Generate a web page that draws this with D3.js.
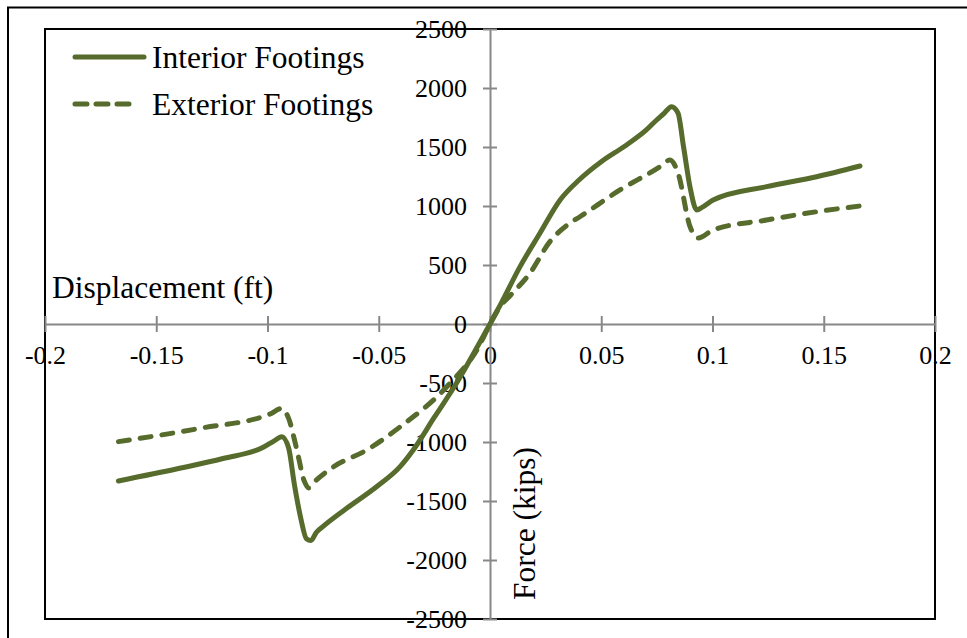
<!DOCTYPE html>
<html>
<head>
<meta charset="utf-8">
<script type="text/javascript" src="https://cdn.jsdelivr.net/npm/d3@7/dist/d3.min.js"></script>
<style>
  body { margin: 0; background: white; }
  text { font-family: "Liberation Serif", "Times New Roman", serif; fill: #000; }
</style>
</head>
<body>
<script>

// data: displacement (ft) vs force (kips)
var interiorDisp  = [-0.167, -0.14, -0.12, -0.1019, -0.097, -0.0936, -0.0905, -0.088, -0.085, -0.0825, -0.0805, -0.078, -0.075, -0.065, -0.051, -0.0404, -0.0345, -0.025, -0.015, -0.005, 0,
                     0.005, 0.0135, 0.0225, 0.0315, 0.04, 0.05, 0.06, 0.07, 0.0749, 0.078, 0.0816, 0.0845, 0.087, 0.09, 0.0929, 0.0955, 0.1003, 0.1243, 0.1468, 0.1663];
var interiorForce = [-1330, -1225, -1140, -1045, -990, -955, -1050, -1350, -1650, -1820, -1835, -1765, -1715, -1570, -1379, -1209, -1068, -790, -500, -170, 0,
                     175, 486, 771, 1051, 1220, 1375, 1500, 1640, 1729, 1780, 1842, 1788, 1500, 1150, 966, 990, 1051, 1164, 1248, 1339];

var exteriorDisp  = [-0.167, -0.1303, -0.0989, -0.0936, -0.0905, -0.087, -0.0835, -0.0815, -0.079, -0.0705, -0.0554, -0.0405, -0.0187, -0.005, 0,
                     0.005, 0.009, 0.018, 0.027, 0.036, 0.0404, 0.0584, 0.0764, 0.0809, 0.0845, 0.0899, 0.0935, 0.1003, 0.1243, 0.147, 0.1663];
var exteriorForce = [-997, -884, -763, -715, -800, -1050, -1330, -1390, -1340, -1212, -1068, -873, -517, -190, 0,
                     160, 240, 432, 700, 856, 909, 1136, 1333, 1390, 1280, 825, 728, 797, 881, 952, 1000];

var xTicks = [-0.2, -0.15, -0.1, -0.05, 0, 0.05, 0.1, 0.15, 0.2];
var yTicks = [-2500, -2000, -1500, -1000, -500, 0, 500, 1000, 1500, 2000, 2500];
var seriesNames = ["Interior Footings", "Exterior Footings"];

var width = 967, height = 638,
    plotLeft = 45, plotTop = 29, plotRight = 935, plotBottom = 619,
    lineColor = "#566b2c";

var svg = d3.select("body").append("svg")
            .attr("width", width)
            .attr("height", height);

// outer frame (only top and left show in the picture)
svg.append("path")
   .attr("d", "M8," + height + "V7.5H" + width)
   .attr("fill", "none")
   .attr("stroke", "#000")
   .attr("stroke-width", 2);

var xScale = d3.scaleLinear().domain([-0.2, 0.2]).range([plotLeft, plotRight]);
var yScale = d3.scaleLinear().domain([-2500, 2500]).range([plotBottom, plotTop]);

// plot border
svg.append("rect")
   .attr("x", plotLeft).attr("y", plotTop)
   .attr("width", plotRight - plotLeft).attr("height", plotBottom - plotTop)
   .attr("fill", "none")
   .attr("stroke", "#000")
   .attr("stroke-width", 2);

// x axis through y = 0
var xAxis = svg.append("g")
   .attr("transform", "translate(0," + yScale(0) + ")")
   .call(d3.axisBottom(xScale).tickValues(xTicks).tickSize(8).tickSizeOuter(0)
           .tickFormat(function (d) { return d === 0 ? "0" : String(+d.toFixed(2)); }));
xAxis.select(".domain").attr("stroke", "#888").attr("stroke-width", 2);
xAxis.selectAll(".tick line").attr("stroke", "#888").attr("stroke-width", 2).attr("y1", -8).attr("y2", 8);
xAxis.selectAll(".tick text")
     .attr("y", 40).attr("dy", null)
     .attr("fill", "#000")
     .style("font-family", "Liberation Serif")
     .style("font-size", "26px");

// y axis through x = 0
var yAxis = svg.append("g")
   .attr("transform", "translate(" + xScale(0) + ",0)")
   .call(d3.axisLeft(yScale).tickValues(yTicks).tickSize(7).tickSizeOuter(0)
           .tickFormat(function (d) { return String(d); }));
yAxis.select(".domain").attr("stroke", "#888").attr("stroke-width", 2);
yAxis.selectAll(".tick line").attr("stroke", "#888").attr("stroke-width", 2).attr("x1", -7).attr("x2", 7);
yAxis.selectAll(".tick text")
     .attr("x", -23).attr("dy", "0.33em")
     .attr("fill", "#000")
     .style("font-family", "Liberation Serif")
     .style("font-size", "26px");
svg.selectAll(".domain").attr("fill", "none");

// axis titles
svg.append("text")
   .attr("x", 52).attr("y", 298)
   .style("font-size", "31.5px")
   .text("Displacement (ft)");

svg.append("text")
   .attr("transform", "translate(535,600) rotate(-90)")
   .style("font-size", "31.5px")
   .text("Force (kips)");

// curves
var line = d3.line()
   .x(function (d) { return xScale(d[0]); })
   .y(function (d) { return yScale(d[1]); })
   .curve(d3.curveMonotoneX);

var interior = d3.zip(interiorDisp, interiorForce);
var exterior = d3.zip(exteriorDisp, exteriorForce);

svg.append("path")
   .datum(exterior)
   .attr("d", line)
   .attr("fill", "none")
   .attr("stroke", lineColor)
   .attr("stroke-width", 5)
   .attr("stroke-linecap", "round")
   .attr("stroke-linejoin", "round")
   .attr("stroke-dasharray", "11,11");

svg.append("path")
   .datum(interior)
   .attr("d", line)
   .attr("fill", "none")
   .attr("stroke", lineColor)
   .attr("stroke-width", 5)
   .attr("stroke-linecap", "round")
   .attr("stroke-linejoin", "round");

// legend
var legend = svg.append("g");
seriesNames.forEach(function (name, i) {
  var y = 57 + i * 47;
  legend.append("line")
        .attr("x1", 75).attr("x2", i === 0 ? 144 : 136)
        .attr("y1", y).attr("y2", y)
        .attr("stroke", lineColor)
        .attr("stroke-width", 5)
        .attr("stroke-linecap", "round")
        .attr("stroke-dasharray", i === 0 ? null : "12,9");
  legend.append("text")
        .attr("x", 152).attr("y", y + 11)
        .style("font-size", "31.5px")
        .text(name);
});

</script>
</body>
</html>
